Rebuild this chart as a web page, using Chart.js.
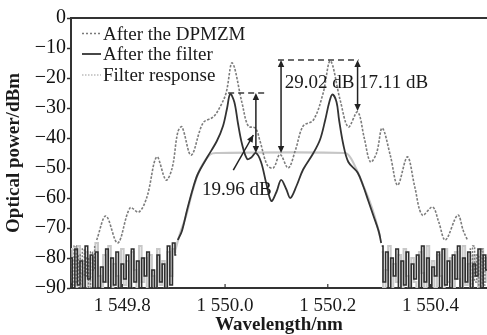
<!DOCTYPE html>
<html>
<head>
<meta charset="utf-8">
<script src="https://cdn.jsdelivr.net/npm/chart.js@4.4.1/dist/chart.umd.min.js"></script>
<style>
html,body{margin:0;padding:0;background:#fff;}
#wrap{width:487px;height:335px;}
</style>
</head>
<body>
<div id="wrap"><canvas id="c" width="487" height="335"></canvas></div>
<script>
// ---- Data ----
const xTicks = [1549.8, 1550.0, 1550.2, 1550.4];
const xTickLabels = ['1 549.8', '1 550.0', '1 550.2', '1 550.4'];
const yTicks = [0, -10, -20, -30, -40, -50, -60, -70, -80, -90];

// After the DPMZM (main trace)
const dpmzmX = [1549.750,1549.768,1549.791,1549.815,1549.832,1549.848,1549.867,1549.885,1549.897,1549.908,1549.916,1549.934,1549.957,1549.977,1549.990,1550.002,1550.014,1550.033,1550.045,1550.059,1550.068,1550.082,1550.094,1550.107,1550.123,1550.137,1550.152,1550.172,1550.191,1550.205,1550.224,1550.240,1550.258,1550.271,1550.283,1550.295,1550.306,1550.322,1550.336,1550.355,1550.369,1550.384,1550.404,1550.416,1550.429,1550.453,1550.464,1550.472];
const dpmzmY = [-74,-66,-75,-63.3,-64.7,-59.6,-46.3,-54,-50,-38,-36.3,-45.7,-35,-33,-29.7,-25,-15,-28.3,-36,-36.7,-41,-49,-50,-45.5,-50,-44,-36,-34,-25,-14.3,-27.3,-36.3,-31.3,-40,-48,-45,-36.7,-46,-55.7,-46.3,-56,-65.7,-63,-68,-74,-65.7,-71,-74];
// After the DPMZM (noise floor)
const dpmzmNoiseLX = [1549.700,1549.704,1549.708,1549.712,1549.716,1549.720,1549.724,1549.728,1549.732,1549.736,1549.740,1549.744,1549.748];
const dpmzmNoiseLY = [-80,-90,-76,-88,-79,-90,-77,-86,-80,-90,-78,-84,-76];
const dpmzmNoiseRX = [1550.476,1550.480,1550.484,1550.488,1550.492,1550.496,1550.500,1550.504,1550.508];
const dpmzmNoiseRY = [-77,-90,-76,-88,-79,-90,-77,-89,-80];

// After the filter (main trace)
const filterX = [1549.908,1549.916,1549.926,1549.938,1549.947,1549.965,1549.984,1549.996,1550.004,1550.010,1550.018,1550.025,1550.033,1550.043,1550.051,1550.060,1550.070,1550.080,1550.090,1550.100,1550.109,1550.119,1550.127,1550.139,1550.152,1550.172,1550.185,1550.195,1550.203,1550.209,1550.217,1550.222,1550.230,1550.240,1550.258,1550.269,1550.279,1550.289,1550.299,1550.304];
const filterY = [-74,-71,-64,-56.5,-52,-46.5,-41,-36,-30,-25.3,-28,-35,-42,-47,-46.5,-45,-48,-55,-61,-58,-54,-57,-60,-56,-50.5,-45,-40.5,-34,-28,-25.5,-28,-34,-42,-48,-51.5,-56,-61,-66,-71,-75];

// Filter response (main trace)
const respX = [1549.902,1549.912,1549.924,1549.936,1549.947,1549.959,1549.971,1549.982,1550.234,1550.244,1550.256,1550.267,1550.279,1550.291,1550.302];
const respY = [-78,-72,-66,-58,-52,-48,-45.5,-45,-45,-46.5,-50.5,-55,-60,-66,-73];

// Noise floor shared wavelength grid
const noiseLX = [1549.700,1549.705,1549.710,1549.715,1549.720,1549.725,1549.730,1549.735,1549.740,1549.745,1549.750,1549.755,1549.760,1549.765,1549.770,1549.775,1549.780,1549.785,1549.790,1549.795,1549.800,1549.805,1549.810,1549.815,1549.820,1549.825,1549.830,1549.835,1549.840,1549.845,1549.850,1549.855,1549.860,1549.865,1549.870,1549.875,1549.880,1549.885,1549.890,1549.895,1549.900,1549.905];
const noiseRX = [1550.305,1550.310,1550.315,1550.320,1550.325,1550.330,1550.335,1550.340,1550.345,1550.350,1550.355,1550.360,1550.365,1550.370,1550.375,1550.380,1550.385,1550.390,1550.395,1550.400,1550.405,1550.410,1550.415,1550.420,1550.425,1550.430,1550.435,1550.440,1550.445,1550.450,1550.455,1550.460,1550.465,1550.470,1550.475,1550.480,1550.485,1550.490,1550.495,1550.500,1550.505,1550.510];
const filterNoiseLY = [-80,-90,-77,-89,-81,-90,-76,-87,-79,-90,-78,-90,-83,-88,-77,-90,-80,-89,-78,-90,-82,-87,-79,-90,-77,-88,-81,-90,-80,-86,-78,-90,-84,-90,-79,-88,-82,-90,-76,-89,-75,-79];
const respNoiseLY = [-77,-88,-90,-76,-85,-90,-78,-90,-80,-90,-75,-86,-90,-79,-88,-76,-90,-82,-86,-90,-77,-89,-81,-90,-78,-84,-90,-76,-88,-80,-90,-79,-86,-90,-77,-89,-81,-90,-78,-86,-77,-78];
const filterNoiseRY = [-76,-88,-78,-90,-80,-86,-77,-90,-81,-89,-78,-90,-82,-87,-79,-90,-76,-88,-80,-90,-83,-86,-78,-90,-77,-89,-81,-90,-79,-87,-76,-90,-80,-88,-78,-90,-82,-86,-77,-90,-79,-84];
const respNoiseRY = [-78,-90,-84,-76,-90,-82,-88,-79,-90,-77,-86,-90,-80,-88,-90,-78,-85,-90,-76,-89,-81,-90,-79,-86,-90,-77,-88,-80,-90,-78,-87,-90,-76,-89,-82,-90,-79,-86,-90,-77,-88,-80];

// Annotations
const dashLines = [ {x1:1550.006, x2:1550.082, y:-25}, {x1:1550.103, x2:1550.260, y:-14} ];
const dblArrows = [ {x:1550.060, y1:-25, y2:-45}, {x:1550.109, y1:-14, y2:-45}, {x:1550.258, y1:-14, y2:-31} ];
const pointerArrow = {x1:1550.016, y1:-50.7, x2:1550.055, y2:-39};
const notes = [
  {text:'19.96 dB', x:1550.023, y:-57.3, align:'center'},
  {text:'29.02 dB', x:1550.116, y:-21.7, align:'left'},
  {text:'17.11 dB', x:1550.261, y:-21.7, align:'left'}
];
const legendItems = [
  {label:'After the DPMZM', color:'#7a7a7a', dash:[2,2], width:1.5},
  {label:'After the filter', color:'#333333', dash:[], width:1.8},
  {label:'Filter response', color:'#9a9a9a', dash:[1.5,1.5], width:1.2}
];

// ---- Chart ----
const SERIF = "'Liberation Serif','Times New Roman',serif";
const pts = (xs, ys) => xs.map((x, i) => ({x: x, y: ys[i]}));

const C_DP = '#7c7c7c', C_F = '#333333', C_R = '#c6c6c6';

const datasets = [
  {data: pts(filterX, filterY), borderColor: C_F, borderWidth: 1.8, tension: 0.35, order: 1},
  {data: pts(noiseLX, filterNoiseLY), borderColor: '#2e2e2e', borderWidth: 1.6, tension: 0, stepped: 'middle', order: 2},
  {data: pts(noiseRX, filterNoiseRY), borderColor: '#2e2e2e', borderWidth: 1.6, tension: 0, stepped: 'middle', order: 2},
  {data: pts(dpmzmX, dpmzmY), borderColor: C_DP, borderWidth: 1.6, borderDash: [2.5, 1.5], tension: 0.35, order: 3},
  {data: pts(dpmzmNoiseLX, dpmzmNoiseLY), borderColor: C_DP, borderWidth: 1.4, borderDash: [2, 1.5], stepped: 'middle', order: 3},
  {data: pts(dpmzmNoiseRX, dpmzmNoiseRY), borderColor: C_DP, borderWidth: 1.4, borderDash: [2, 1.5], stepped: 'middle', order: 3},
  {data: pts(respX, respY), borderColor: C_R, borderWidth: 2.2, tension: 0.3, order: 4},
  {data: pts(noiseLX, respNoiseLY), borderColor: '#c8c8c8', borderWidth: 2, stepped: 'middle', order: 4},
  {data: pts(noiseRX, respNoiseRY), borderColor: '#c8c8c8', borderWidth: 2, stepped: 'middle', order: 4}
];
datasets.forEach(d => { d.pointRadius = 0; d.fill = false; });

function arrowHead(ctx, x1, y1, x2, y2) {
  const a = Math.atan2(y2 - y1, x2 - x1);
  const L = 7, W = 3.2;
  ctx.beginPath();
  ctx.moveTo(x2, y2);
  ctx.lineTo(x2 - L*Math.cos(a) + W*Math.sin(a), y2 - L*Math.sin(a) - W*Math.cos(a));
  ctx.lineTo(x2 - L*Math.cos(a) - W*Math.sin(a), y2 - L*Math.sin(a) + W*Math.cos(a));
  ctx.closePath();
  ctx.fill();
}

const extras = {
  id: 'extras',
  afterDatasetsDraw(chart) {
    const {ctx, chartArea: ca, scales: {x, y}} = chart;
    ctx.save();
    // top frame line
    ctx.strokeStyle = '#333'; ctx.lineWidth = 2; ctx.setLineDash([]);
    ctx.beginPath(); ctx.moveTo(ca.left, ca.top); ctx.lineTo(ca.right, ca.top); ctx.stroke();
    // inward x ticks
    ctx.lineWidth = 1.2;
    xTicks.forEach(v => {
      const px = x.getPixelForValue(v);
      ctx.beginPath(); ctx.moveTo(px, ca.bottom); ctx.lineTo(px, ca.bottom - 4); ctx.stroke();
    });
    // dashed lines
    ctx.strokeStyle = '#3c3c3c'; ctx.lineWidth = 1.6; ctx.setLineDash([6, 4]);
    dashLines.forEach(d => {
      const yy = y.getPixelForValue(d.y);
      ctx.beginPath(); ctx.moveTo(x.getPixelForValue(d.x1), yy); ctx.lineTo(x.getPixelForValue(d.x2), yy); ctx.stroke();
    });
    ctx.setLineDash([]);
    // double arrows
    ctx.strokeStyle = '#222'; ctx.fillStyle = '#222'; ctx.lineWidth = 1.5;
    dblArrows.forEach(d => {
      const px = x.getPixelForValue(d.x), p1 = y.getPixelForValue(d.y1), p2 = y.getPixelForValue(d.y2);
      ctx.beginPath(); ctx.moveTo(px, p1 + 4); ctx.lineTo(px, p2 - 4); ctx.stroke();
      arrowHead(ctx, px, p2 - 10, px, p1);
      arrowHead(ctx, px, p1 + 10, px, p2);
    });
    // pointer arrow
    {
      const ax1 = x.getPixelForValue(pointerArrow.x1), ay1 = y.getPixelForValue(pointerArrow.y1);
      const ax2 = x.getPixelForValue(pointerArrow.x2), ay2 = y.getPixelForValue(pointerArrow.y2);
      ctx.beginPath(); ctx.moveTo(ax1, ay1); ctx.lineTo(ax2, ay2); ctx.stroke();
      arrowHead(ctx, ax1, ay1, ax2, ay2);
    }
    // notes
    ctx.fillStyle = '#1a1a1a';
    ctx.font = '19px ' + SERIF;
    ctx.textBaseline = 'middle';
    notes.forEach(n => {
      ctx.textAlign = n.align;
      ctx.fillText(n.text, x.getPixelForValue(n.x), y.getPixelForValue(n.y));
    });
    // legend
    ctx.textAlign = 'left';
    const rowsY = [34, 54.5, 75.5];
    legendItems.forEach((it, i) => {
      const yy = rowsY[i];
      ctx.strokeStyle = it.color; ctx.lineWidth = it.width; ctx.setLineDash(it.dash);
      ctx.beginPath(); ctx.moveTo(82, yy - 0.5); ctx.lineTo(101, yy - 0.5); ctx.stroke();
      ctx.setLineDash([]);
      ctx.fillStyle = '#1a1a1a';
      ctx.fillText(it.label, 103, yy + 1);
    });
    ctx.restore();
  }
};

new Chart(document.getElementById('c'), {
  type: 'line',
  data: {datasets: datasets},
  options: {
    responsive: false,
    animation: false,
    layout: {padding: {top: 18, right: 0, left: 0, bottom: 0}},
    plugins: {legend: {display: false}, tooltip: {enabled: false}},
    scales: {
      x: {
        type: 'linear',
        min: 1549.7, max: 1550.51,
        afterBuildTicks: s => { s.ticks = xTicks.map(v => ({value: v})); },
        afterFit: s => { s.height = 47; },
        grid: {display: true, drawOnChartArea: false, drawTicks: false},
        border: {display: true, color: '#333', width: 2},
        ticks: {
          color: '#1a1a1a', padding: 7, maxRotation: 0, autoSkip: false,
          font: {family: SERIF, size: 19},
          callback: (v) => { const i = xTicks.findIndex(t => Math.abs(t - v) < 1e-6); return i >= 0 ? xTickLabels[i] : ''; }
        },
        title: {display: true, text: 'Wavelength/nm', color: '#1a1a1a',
          font: {family: SERIF, size: 19, weight: 'bold', lineHeight: 1.0}, padding: {top: 0, bottom: 0}}
      },
      y: {
        min: -90, max: 0,
        afterBuildTicks: s => { s.ticks = yTicks.map(v => ({value: v})); },
        afterFit: s => { s.width = 71; },
        grid: {display: true, drawOnChartArea: false, drawTicks: true, tickLength: 4, color: '#333', tickWidth: 1.5},
        border: {display: true, color: '#333', width: 2},
        ticks: {
          color: '#111', padding: 1,
          font: {family: SERIF, size: 20},
          callback: v => v === 0 ? '0' : '\u2212' + Math.abs(v)
        },
        title: {display: true, text: 'Optical power/dBm', color: '#1a1a1a',
          font: {family: SERIF, size: 19, weight: 'bold', lineHeight: 1.0}, padding: {top: 5, bottom: 0}}
      }
    }
  },
  plugins: [extras]
});
</script>
</body>
</html>
